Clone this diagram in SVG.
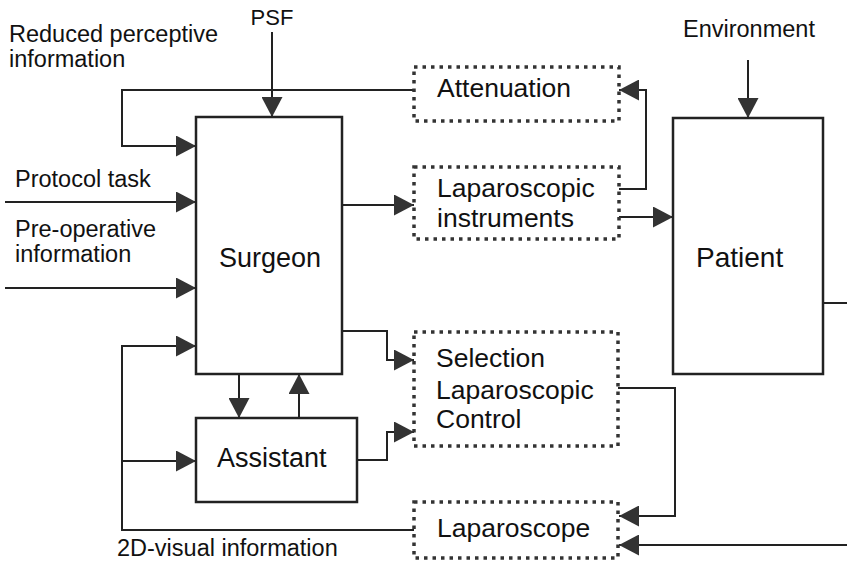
<svg xmlns="http://www.w3.org/2000/svg" width="847" height="572" viewBox="0 0 847 572">
<defs>
<marker id="arr" markerUnits="userSpaceOnUse" markerWidth="21" markerHeight="21" refX="20" refY="10.5" orient="auto">
<path d="M0,0 L20,10.5 L0,21 z" fill="#333"/>
</marker>
<style>
.box{fill:#fff;stroke:#222;stroke-width:2.5}
.dot{fill:#fff;stroke:#333;stroke-width:3.5;stroke-dasharray:3.5 5}
.ln{fill:none;stroke:#222;stroke-width:2}
.a{marker-end:url(#arr)}
.big{font-family:"Liberation Sans",Arial,sans-serif;font-size:27px;fill:#111}
.mid{font-family:"Liberation Sans",Arial,sans-serif;font-size:26.5px;fill:#111}
.sm{font-family:"Liberation Sans",Arial,sans-serif;font-size:23.5px;fill:#111}
</style>
</defs>
<rect width="847" height="572" fill="#fff"/>

<g id="connectors">
<path class="ln a" d="M272,32 V117"/>
<path class="ln a" d="M414,90 H122 V146 H196"/>
<path class="ln a" d="M5,202 H196"/>
<path class="ln a" d="M5,288 H196"/>
<path class="ln a" d="M414,530 H122 V346 H196"/>
<path class="ln a" d="M122,461 H196"/>
<path class="ln a" d="M239,374 V418"/>
<path class="ln a" d="M299,418 V374"/>
<path class="ln a" d="M342,205 H414"/>
<path class="ln a" d="M342,331 H387 V360 H414"/>
<path class="ln a" d="M357,460 H387 V432 H414"/>
<path class="ln a" d="M619,189 H646 V90 H619"/>
<path class="ln a" d="M619,217 H673"/>
<path class="ln a" d="M748,60 V118"/>
<path class="ln" d="M823,303 H847"/>
<path class="ln a" d="M847,545 H619"/>
<path class="ln a" d="M618,388 H675 V516 H619"/>
</g>

<g id="labels">
<text class="sm" x="272" y="25" text-anchor="middle" style="font-size:22px">PSF</text>
<text class="sm" x="9" y="42">Reduced perceptive</text>
<text class="sm" x="9" y="67">information</text>
<text class="sm" x="15" y="187">Protocol task</text>
<text class="sm" x="15" y="237">Pre-operative</text>
<text class="sm" x="15" y="262">information</text>
<text class="sm" x="683" y="37">Environment</text>
<text class="sm" x="117" y="556">2D-visual information</text>
</g>

<g id="surgeon">
<rect class="box" x="196" y="117" width="146" height="257"/>
<text class="big" x="219" y="267">Surgeon</text>
</g>

<g id="assistant">
<rect class="box" x="196" y="418" width="161" height="84"/>
<text class="big" x="217" y="467">Assistant</text>
</g>

<g id="patient">
<rect class="box" x="673" y="118" width="150" height="256"/>
<text class="big" x="696" y="267" style="font-size:28px">Patient</text>
</g>

<g id="attenuation">
<rect class="dot" x="414" y="67" width="205" height="54"/>
<text class="mid" x="437" y="97">Attenuation</text>
</g>

<g id="laparoscopic-instruments">
<rect class="dot" x="414" y="167" width="205" height="72"/>
<text class="mid" x="437" y="197">Laparoscopic</text>
<text class="mid" x="437" y="227">instruments</text>
</g>

<g id="selection">
<rect class="dot" x="414" y="332" width="204" height="114"/>
<text class="mid" x="436" y="367">Selection</text>
<text class="mid" x="436" y="399">Laparoscopic</text>
<text class="mid" x="436" y="428">Control</text>
</g>

<g id="laparoscope">
<rect class="dot" x="414" y="502" width="204" height="56"/>
<text class="mid" x="437" y="537">Laparoscope</text>
</g>
</svg>
